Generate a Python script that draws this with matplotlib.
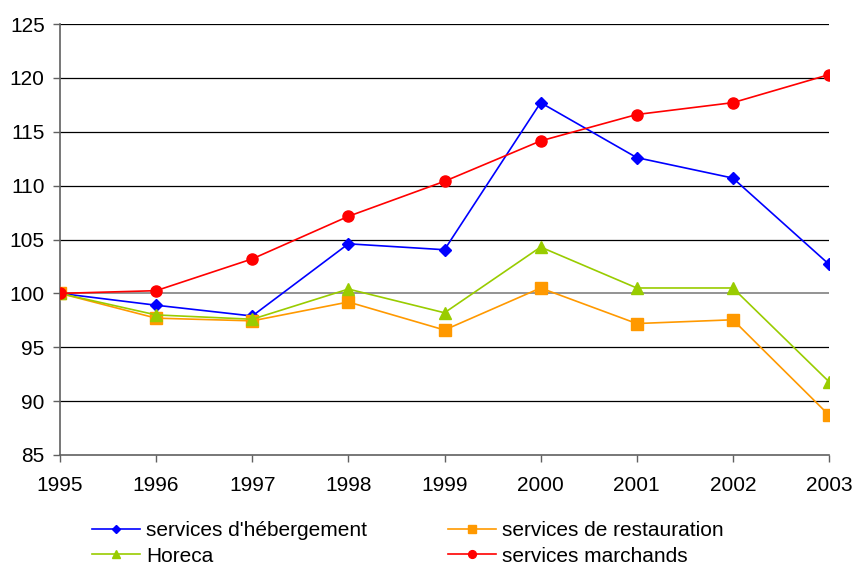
import matplotlib
matplotlib.use('Agg')
import matplotlib.pyplot as plt

plt.rcParams['font.family'] = ['Liberation Sans', 'DejaVu Sans']

years = [1995, 1996, 1997, 1998, 1999, 2000, 2001, 2002, 2003]
hebergement = [100, 98.9, 97.9, 104.6, 104.05, 117.7, 112.6, 110.7, 102.7]
restauration = [100, 97.7, 97.45, 99.2, 96.6, 100.5, 97.2, 97.55, 88.7]
horeca = [100, 98.0, 97.6, 100.4, 98.2, 104.3, 100.5, 100.5, 91.8]
marchands = [100, 100.25, 103.2, 107.15, 110.4, 114.15, 116.6, 117.7, 120.3]

fig = plt.figure(figsize=(8.55, 5.65), dpi=100)
ax = fig.add_axes([60 / 855, 1 - 455 / 565, (829 - 60) / 855, (455 - 24) / 565])

for v in range(90, 130, 5):
    ax.axhline(v, color='#808080' if v == 100 else 'black', lw=1.2 if v == 100 else 0.9, zorder=1)

ax.plot(years, hebergement, color='#0000FF', marker='D', ms=6, lw=1.2,
        label="services d'hébergement", zorder=3)
ax.plot(years, restauration, color='#FF9900', marker='s', ms=8, lw=1.2,
        label='services de restauration', zorder=3)
ax.plot(years, horeca, color='#99CC00', marker='^', ms=8, lw=1.2,
        label='Horeca', zorder=3)
ax.plot(years, marchands, color='#FF0000', marker='o', ms=8, lw=1.2,
        label='services marchands', zorder=4)

ax.set_xlim(1995, 2003)
ax.set_ylim(85, 125)
ax.set_xticks(years)
ax.set_yticks(range(85, 130, 5))
ax.tick_params(labelsize=15, colors='black', length=5, width=1)
ax.tick_params(axis='x', pad=10, color='#606060')
ax.tick_params(axis='y', pad=6, color='#606060')
for s in ['top', 'right']:
    ax.spines[s].set_visible(False)
for s in ['left', 'bottom']:
    ax.spines[s].set_color('#606060')
    ax.spines[s].set_linewidth(1.2)
ax.spines['bottom'].set_zorder(5)
for lbl in ax.get_xticklabels() + ax.get_yticklabels():
    lbl.set_clip_on(False)

# legend order: hébergement, restauration / Horeca, marchands
h, l = ax.get_legend_handles_labels()
order = [0, 2, 1, 3]
fig.legend([h[i] for i in order], [l[i] for i in order], ncol=2, frameon=False,
           loc='center left', bbox_to_anchor=(92 / 855, 1 - 543.5 / 565),
           borderaxespad=0, borderpad=0,
           fontsize=15, handlelength=2.3, handletextpad=0.28, columnspacing=3.9,
           labelspacing=0.3, markerscale=0.7)

fig.savefig('out.png', dpi=100)
